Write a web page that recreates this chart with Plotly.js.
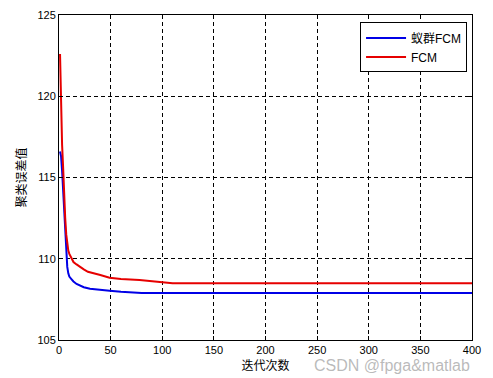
<!DOCTYPE html>
<html>
<head>
<meta charset="utf-8">
<script src="https://cdn.plot.ly/plotly-3.0.1.min.js"></script>
<style>html,body{margin:0;padding:0;background:#fff;}#chart{width:493px;height:378px;}</style>
</head>
<body>
<div id="chart"></div>
<script>
// Series: ant-colony FCM (蚁群FCM)
const antX = [1,2,3,4,5,6,7,8,9,10,12,14,17,20,24,30,40,49,60,80,400];
const antY = [116.6,116.3,115.4,114.2,113.0,111.6,110.3,109.5,109.1,108.9,108.75,108.6,108.45,108.35,108.25,108.15,108.07,108.03,107.97,107.9,107.9];
// Series: FCM
const fcmX = [1,2,3,4,5,6,7,8,9,10,12,14,17,20,24,28,33,40,49,60,78,98,110,400];
const fcmY = [122.6,119.5,117.0,115.6,113.8,112.5,111.5,110.9,110.5,110.3,110.0,109.8,109.65,109.5,109.35,109.2,109.1,109.0,108.83,108.75,108.7,108.6,108.5,108.5];
const seriesNames = ['蚁群FCM','FCM'];
const xTicks = [0,50,100,150,200,250,300,350,400];
const yTicks = [105,110,115,120,125];
const xTitle = '迭代次数';
const yTitle = '聚类误差值';
const watermark = 'CSDN @fpga&matlab';

const fontFam = 'Liberation Sans, Arial, Noto Sans CJK SC, sans-serif';
const traces = [
  {x: antX, y: antY, name: seriesNames[0], type: 'scatter', mode: 'lines', line: {color: '#0000e6', width: 2}},
  {x: fcmX, y: fcmY, name: seriesNames[1], type: 'scatter', mode: 'lines', line: {color: '#e60000', width: 2}}
];
const axisCommon = {
  showline: true, linecolor: '#000', linewidth: 1, mirror: 'ticks',
  ticks: 'inside', ticklen: 4, tickcolor: '#000',
  showgrid: true, gridcolor: '#000', griddash: '4px,3px', gridwidth: 1,
  zeroline: false, tickfont: {family: fontFam, size: 11, color: '#000'}
};
const layout = {
  width: 493, height: 378,
  margin: {l: 59, r: 21, t: 15, b: 38},
  paper_bgcolor: '#fff', plot_bgcolor: '#fff',
  showlegend: true,
  legend: {x: 0.988, y: 0.977, xanchor: 'right', yanchor: 'top', bgcolor: '#fff',
    bordercolor: '#000', borderwidth: 1, font: {family: fontFam, size: 12, color: '#000'},
    tracegroupgap: 0, itemwidth: 40},
  xaxis: Object.assign({}, axisCommon, {range: [0, 400], tickvals: xTicks,
    title: {text: xTitle, font: {family: 'Noto Sans CJK SC, sans-serif', size: 12, color: '#000'}, standoff: 2}}),
  yaxis: Object.assign({}, axisCommon, {range: [105, 125], tickvals: yTicks,
    title: {text: yTitle, font: {family: 'Noto Sans CJK SC, sans-serif', size: 12, color: '#000'}, standoff: 8}}),
  annotations: [{text: watermark, xref: 'paper', yref: 'paper', x: 1.0, y: -0.045, xanchor: 'right', yanchor: 'top',
    showarrow: false, font: {family: fontFam, size: 16, color: 'rgba(140,140,140,0.6)'}}]
};
Plotly.newPlot('chart', traces, layout, {displayModeBar: false, staticPlot: true});
</script>
</body>
</html>
